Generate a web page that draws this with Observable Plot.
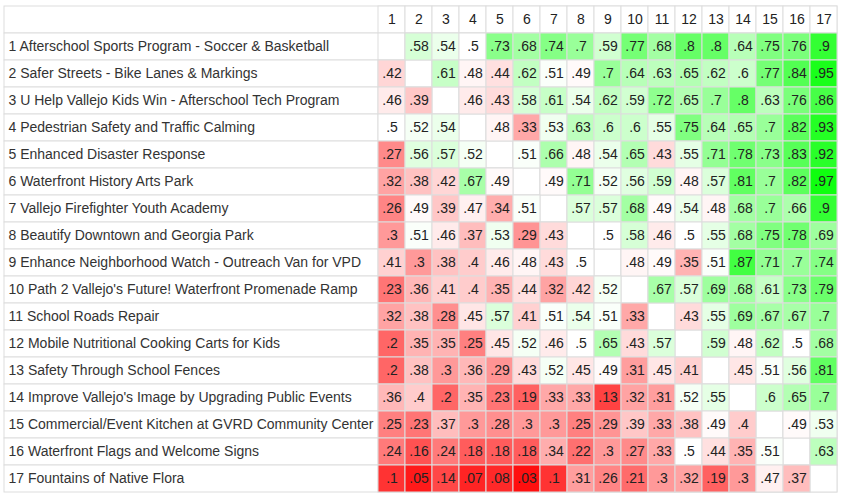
<!DOCTYPE html>
<html>
<head>
<meta charset="utf-8">
<script src="https://cdn.jsdelivr.net/npm/d3@7"></script>
<script src="https://cdn.jsdelivr.net/npm/@observablehq/plot@0.6"></script>
<style>
  html, body { margin: 0; padding: 0; background: #fff; }
  #chart svg { display: block; }
</style>
</head>
<body>
<div id="chart"></div>
<script>
const projectLabels = [
  "1 Afterschool Sports Program - Soccer & Basketball",
  "2 Safer Streets - Bike Lanes & Markings",
  "3 U Help Vallejo Kids Win - Afterschool Tech Program",
  "4 Pedestrian Safety and Traffic Calming",
  "5 Enhanced Disaster Response",
  "6 Waterfront History Arts Park",
  "7 Vallejo Firefighter Youth Academy",
  "8 Beautify Downtown and Georgia Park",
  "9 Enhance Neighborhood Watch - Outreach Van for VPD",
  "10 Path 2 Vallejo's Future! Waterfront Promenade Ramp",
  "11 School Roads Repair",
  "12 Mobile Nutritional Cooking Carts for Kids",
  "13 Safety Through School Fences",
  "14 Improve Vallejo's Image by Upgrading Public Events",
  "15 Commercial/Event Kitchen at GVRD Community Center",
  "16 Waterfront Flags and Welcome Signs",
  "17 Fountains of Native Flora"
];

const columnLabels = ["1","2","3","4","5","6","7","8","9","10","11","12","13","14","15","16","17"];

// win rate of row project vs column project (null on the diagonal)
const values = [
  [null,.58,.54,.5,.73,.68,.74,.7,.59,.77,.68,.8,.8,.64,.75,.76,.9],
  [.42,null,.61,.48,.44,.62,.51,.49,.7,.64,.63,.65,.62,.6,.77,.84,.95],
  [.46,.39,null,.46,.43,.58,.61,.54,.62,.59,.72,.65,.7,.8,.63,.76,.86],
  [.5,.52,.54,null,.48,.33,.53,.63,.6,.6,.55,.75,.64,.65,.7,.82,.93],
  [.27,.56,.57,.52,null,.51,.66,.48,.54,.65,.43,.55,.71,.78,.73,.83,.92],
  [.32,.38,.42,.67,.49,null,.49,.71,.52,.56,.59,.48,.57,.81,.7,.82,.97],
  [.26,.49,.39,.47,.34,.51,null,.57,.57,.68,.49,.54,.48,.68,.7,.66,.9],
  [.3,.51,.46,.37,.53,.29,.43,null,.5,.58,.46,.5,.55,.68,.75,.78,.69],
  [.41,.3,.38,.4,.46,.48,.43,.5,null,.48,.49,.35,.51,.87,.71,.7,.74],
  [.23,.36,.41,.4,.35,.44,.32,.42,.52,null,.67,.57,.69,.68,.61,.73,.79],
  [.32,.38,.28,.45,.57,.41,.51,.54,.51,.33,null,.43,.55,.69,.67,.67,.7],
  [.2,.35,.35,.25,.45,.52,.46,.5,.65,.43,.57,null,.59,.48,.62,.5,.68],
  [.2,.38,.3,.36,.29,.43,.52,.45,.49,.31,.45,.41,null,.45,.51,.56,.81],
  [.36,.4,.2,.35,.23,.19,.33,.33,.13,.32,.31,.52,.55,null,.6,.65,.7],
  [.25,.23,.37,.3,.28,.3,.3,.25,.29,.39,.33,.38,.49,.4,null,.49,.53],
  [.24,.16,.24,.18,.18,.18,.34,.22,.3,.27,.33,.5,.44,.35,.51,null,.63],
  [.1,.05,.14,.07,.08,.03,.1,.31,.26,.21,.3,.32,.19,.3,.47,.37,null]
];

const HEADER = "header";
const rowKeys = columnLabels; // rows are the same 17 projects
const cells = [];
values.forEach((row, i) => row.forEach((v, j) => cells.push({row: rowKeys[i], col: columnLabels[j], v})));
const filled = cells.filter(d => d.v != null);
const fmt = v => String(v).replace(/^0/, "");

const FONT = "Helvetica, 'Liberation Sans', Arial, sans-serif";

const chart = Plot.plot({
  width: 844,
  height: 500,
  marginLeft: 4,
  marginRight: 7,
  marginTop: 6,
  marginBottom: 8,
  x: {type: "band", domain: columnLabels, range: [378, 837], padding: 0, axis: null},
  y: {type: "band", domain: [HEADER, ...rowKeys], padding: 0, axis: null},
  color: {type: "linear", domain: [0, 0.5, 1], range: ["#ff0000", "#ffffff", "#00ff00"], interpolate: "rgb"},
  style: {fontFamily: FONT, fontSize: "14px", background: "#fff"},
  marks: [
    // full-width table rows (label column + borders)
    Plot.cell([HEADER, ...rowKeys], {y: d => d, fill: "white", stroke: "#ddd"}),
    // header cells
    Plot.cell(columnLabels, {x: d => d, y: () => HEADER, fill: "white", stroke: "#ddd"}),
    // all matrix cells (white base, including diagonal)
    Plot.cell(cells, {x: "col", y: "row", fill: "white", stroke: "#ddd"}),
    // coloured cells
    Plot.cell(filled, {x: "col", y: "row", fill: "v", stroke: "#ddd"}),
    // header numbers
    Plot.text(columnLabels, {x: d => d, y: () => HEADER, text: d => d, fontSize: 14, fill: "#222"}),
    // cell values
    Plot.text(filled, {x: "col", y: "row", text: d => fmt(d.v), fontSize: 14, fill: "#222"}),
    // row labels
    Plot.text(rowKeys, {y: d => d, text: (d, i) => projectLabels[i], frameAnchor: "left", textAnchor: "start", dx: 4, fontSize: 14, fill: "#333"})
  ]
});

document.getElementById("chart").appendChild(chart);
</script>
</body>
</html>
